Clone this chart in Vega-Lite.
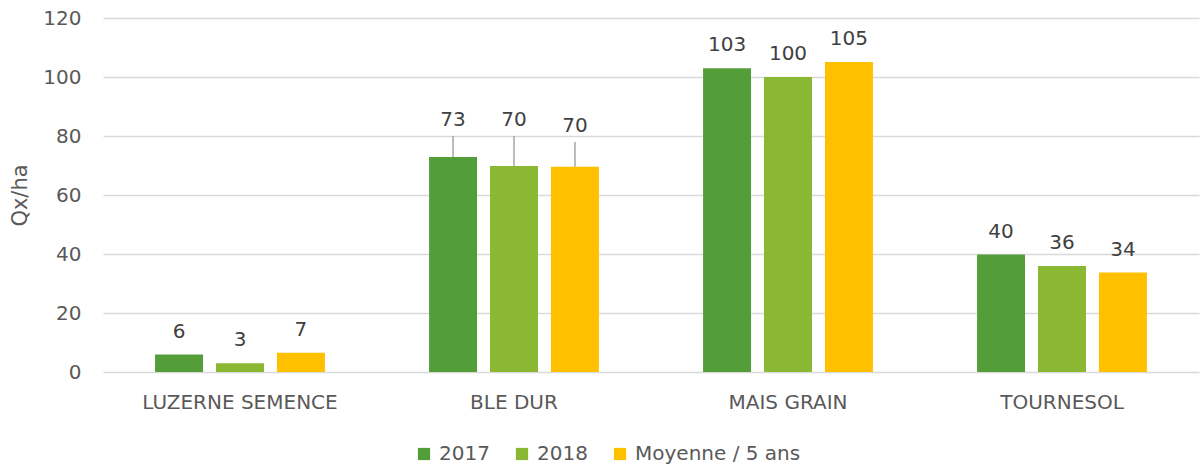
{
  "$schema": "https://vega.github.io/schema/vega-lite/v6.json",
  "width": 1096,
  "height": 354,
  "autosize": {"type": "none"},
  "padding": {"left": 103, "top": 18, "right": 4, "bottom": 96},
  "background": "white",
  "config": {
    "view": {"stroke": null},
    "font": "DejaVu Sans",
    "text": {"font": "DejaVu Sans"}
  },
  "data": {
    "values": [
      {"culture": "LUZERNE SEMENCE", "serie": "2017", "value": 5.9, "label": "6"},
      {"culture": "LUZERNE SEMENCE", "serie": "2018", "value": 3.0, "label": "3"},
      {"culture": "LUZERNE SEMENCE", "serie": "Moyenne / 5 ans", "value": 6.5, "label": "7"},
      {"culture": "BLE DUR", "serie": "2017", "value": 72.9, "upper": 80, "label": "73"},
      {"culture": "BLE DUR", "serie": "2018", "value": 69.8, "upper": 80, "label": "70"},
      {"culture": "BLE DUR", "serie": "Moyenne / 5 ans", "value": 69.6, "upper": 78, "label": "70"},
      {"culture": "MAIS GRAIN", "serie": "2017", "value": 103, "label": "103"},
      {"culture": "MAIS GRAIN", "serie": "2018", "value": 100, "label": "100"},
      {"culture": "MAIS GRAIN", "serie": "Moyenne / 5 ans", "value": 105.1, "label": "105"},
      {"culture": "TOURNESOL", "serie": "2017", "value": 39.8, "label": "40"},
      {"culture": "TOURNESOL", "serie": "2018", "value": 35.9, "label": "36"},
      {"culture": "TOURNESOL", "serie": "Moyenne / 5 ans", "value": 33.7, "label": "34"}
    ]
  },
  "encoding": {
    "x": {
      "field": "culture",
      "type": "nominal",
      "sort": null,
      "scale": {"paddingInner": 0.38, "paddingOuter": 0.19},
      "axis": {
        "title": null,
        "labelAngle": 0,
        "domain": false,
        "ticks": false,
        "labelPadding": 20,
        "labelFontSize": 20,
        "labelLimit": 0,
        "labelColor": "#595959",
        "labelFont": "DejaVu Sans"
      }
    },
    "xOffset": {
      "field": "serie",
      "type": "nominal",
      "sort": null,
      "scale": {"paddingInner": 0.213, "paddingOuter": 0}
    }
  },
  "layer": [
    {
      "mark": {"type": "bar"},
      "encoding": {
        "y": {
          "field": "value",
          "type": "quantitative",
          "scale": {"domain": [0, 120]},
          "axis": {
            "title": "Qx/ha",
            "titleFontSize": 21,
            "titleFontWeight": "normal",
            "titleColor": "#595959",
            "titleFont": "DejaVu Sans",
            "titlePadding": 12,
            "values": [0, 20, 40, 60, 80, 100, 120],
            "domain": false,
            "ticks": false,
            "labelPadding": 22,
            "labelFontSize": 20,
            "labelColor": "#595959",
            "labelFont": "DejaVu Sans",
            "gridColor": "#d9d9d9",
            "gridWidth": 1.5
          }
        },
        "color": {
          "field": "serie",
          "type": "nominal",
          "sort": null,
          "scale": {
            "domain": ["2017", "2018", "Moyenne / 5 ans"],
            "range": ["#549e39", "#8ab833", "#ffc000"]
          },
          "legend": {
            "title": null,
            "orient": "none",
            "direction": "horizontal",
            "legendX": 311,
            "legendY": 426,
            "symbolType": "square",
            "symbolSize": 150,
            "symbolStrokeWidth": 0,
            "labelFontSize": 20,
            "labelLimit": 400,
            "labelColor": "#595959",
            "labelFont": "DejaVu Sans",
            "labelOffset": 5,
            "columnPadding": 22
          }
        }
      }
    },
    {
      "transform": [{"filter": "isValid(datum.upper)"}],
      "mark": {"type": "rule", "color": "#a6a6a6", "strokeWidth": 1.5},
      "encoding": {
        "y": {"field": "value", "type": "quantitative"},
        "y2": {"field": "upper"}
      }
    },
    {
      "transform": [{"filter": "!isValid(datum.upper)"}],
      "mark": {"type": "text", "dy": -17, "baseline": "alphabetic", "fontSize": 20, "color": "#404040"},
      "encoding": {
        "y": {"field": "value", "type": "quantitative"},
        "text": {"field": "label"}
      }
    },
    {
      "transform": [{"filter": "isValid(datum.upper)"}],
      "mark": {"type": "text", "dy": -10, "baseline": "alphabetic", "fontSize": 20, "color": "#404040"},
      "encoding": {
        "y": {"field": "upper", "type": "quantitative"},
        "text": {"field": "label"}
      }
    }
  ]
}
